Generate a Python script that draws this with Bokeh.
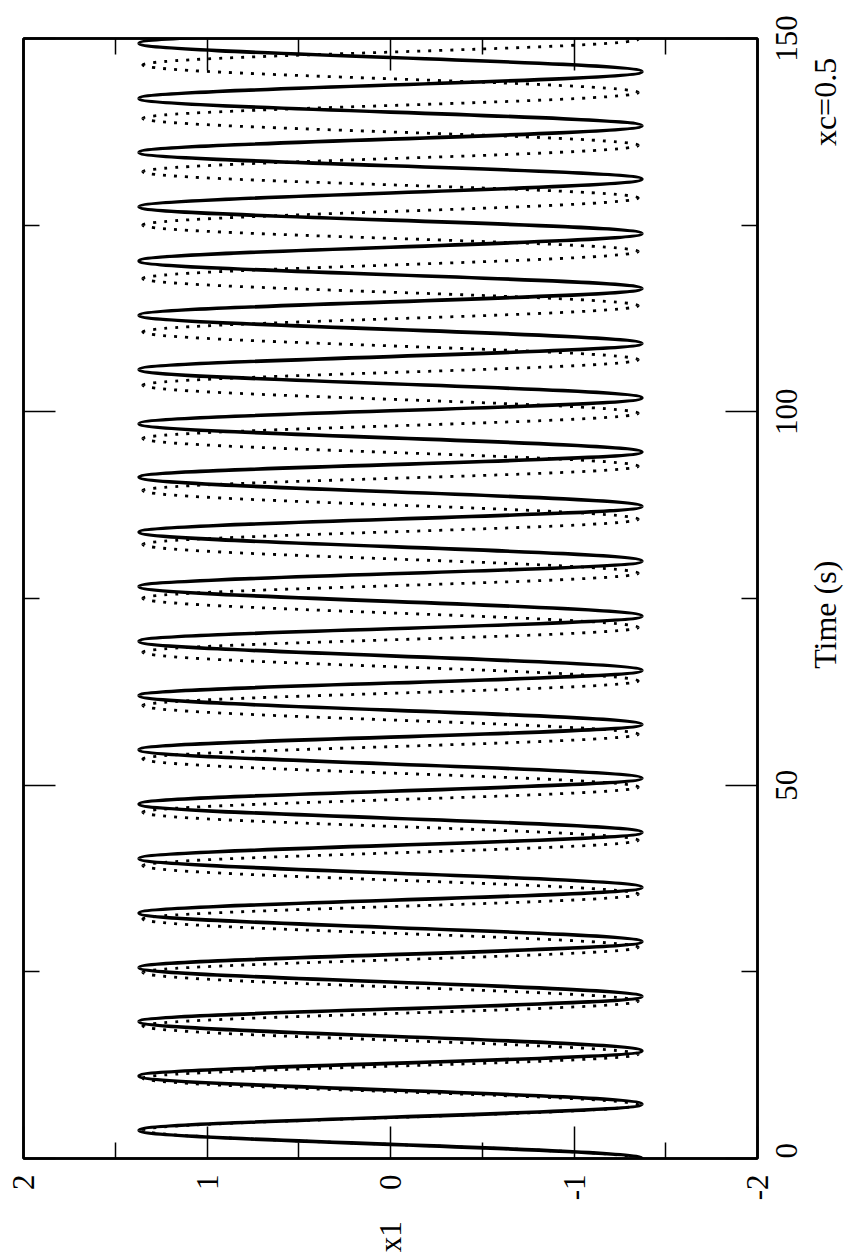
import math
from bokeh.plotting import figure
from bokeh.models import Range1d, LinearAxis, FixedTicker, ColumnDataSource
from bokeh.embed import file_html
from bokeh.resources import INLINE

# ---- data: turning points of each trace ----
# solid trace: times (s) of successive troughs / crests and their x1 values
solid_t = [0.00, 3.78, 7.27, 11.06, 14.41, 18.34, 21.69, 25.58, 29.02, 32.87,
           36.30, 40.19, 43.67, 47.48, 50.91, 54.76, 58.11, 62.00, 65.35, 69.28,
           72.63, 76.61, 80.00, 83.89, 87.33, 91.26, 94.61, 98.42, 101.85, 105.66,
           109.14, 112.94, 116.51, 120.21, 123.89, 127.45, 131.17, 134.74, 138.31,
           141.98, 145.55, 149.36, 152.90]
solid_x1 = [-1.37, 1.37, -1.37, 1.37, -1.37, 1.37, -1.37, 1.37, -1.37, 1.37,
            -1.37, 1.37, -1.37, 1.37, -1.37, 1.37, -1.37, 1.37, -1.37, 1.37,
            -1.37, 1.37, -1.37, 1.37, -1.37, 1.37, -1.37, 1.37, -1.37, 1.37,
            -1.37, 1.37, -1.37, 1.37, -1.37, 1.37, -1.37, 1.37, -1.37,
            1.37, -1.37, 1.37, -1.37]

# dotted trace: slightly faster oscillation, drifting ahead of the solid one
dot_t = [0.00, 3.78, 7.17, 10.76, 13.96, 17.76, 21.07, 24.91, 28.28, 32.07,
         35.40, 39.21, 42.62, 46.36, 49.73, 53.51, 56.81, 60.66, 63.95, 67.81,
         71.11, 75.03, 78.38, 82.23, 85.61, 89.46, 92.71, 96.42, 99.80, 103.56,
         106.97, 110.70, 114.21, 117.84, 121.48, 125.00, 128.65, 132.15, 135.68,
         139.30, 142.75, 146.46, 149.90, 153.50]
dot_x1 = [-1.35, 1.35, -1.35, 1.35, -1.35, 1.35, -1.35, 1.35, -1.35, 1.35,
          -1.35, 1.35, -1.35, 1.35, -1.35, 1.35, -1.35, 1.35, -1.35, 1.35,
          -1.35, 1.35, -1.35, 1.35, -1.35, 1.35, -1.35, 1.35, -1.35, 1.35,
          -1.35, 1.35, -1.35, 1.35, -1.35, 1.35, -1.35, 1.35, -1.35,
          1.35, -1.35, 1.35, -1.35, 1.35]

x1_ticks = [-2, -1, 0, 1, 2]
x1_labels = {-2: "-2", -1: "-1", 0: "0", 1: "1", 2: "2"}
x1_minor = [-1.5, -0.5, 0.5, 1.5]
t_ticks = [0, 50, 100, 150]
t_minor = [25, 75, 125]
t_labels = ["0", "50", "100", "150"]

FONT = "Liberation Serif"
VERT = math.pi / 2
TICK_FS = 31          # px, tick-label font size
TITLE_FS = 32         # px, axis-title font size


def bezier_source(ts, vs):
    # half-wave bezier segments between successive turning points
    k = 0.3634
    d = dict(x0=[], y0=[], x1=[], y1=[], cx0=[], cy0=[], cx1=[], cy1=[])
    for i in range(len(ts) - 1):
        dt = ts[i + 1] - ts[i]
        d["x0"].append(vs[i]); d["y0"].append(ts[i])
        d["x1"].append(vs[i + 1]); d["y1"].append(ts[i + 1])
        d["cx0"].append(vs[i]); d["cy0"].append(ts[i] + k * dt)
        d["cx1"].append(vs[i + 1]); d["cy1"].append(ts[i + 1] - k * dt)
    return ColumnDataSource(d)


p = figure(width=864, height=1258, x_range=Range1d(2, -2), y_range=Range1d(0, 150),
           output_backend="svg", toolbar_location=None, y_axis_location="right",
           min_border_left=23, min_border_right=106, min_border_top=38,
           min_border_bottom=100)
p.xgrid.visible = False
p.ygrid.visible = False
p.outline_line_color = "black"
p.outline_line_width = 2.5
p.background_fill_color = "white"
p.border_fill_color = "white"

# time px per second, used only to centre the rotated (bottom-to-top) texts
PX_PER_S = 1120.0 / 150.0


def centred_start(t_centre, text, fs, em_widths):
    # Bokeh starts a rotated right-side label at its tick; shift it down by half its length
    length = sum(em_widths.get(ch, 0.5) for ch in text) * fs
    return t_centre - 0.5 * length / PX_PER_S


EM = {"0": .5, "1": .5, "5": .5, "T": .611, "i": .278, "m": .778, "e": .444, " ": .25,
      "(": .333, ")": .333, "s": .389, "x": .5, "c": .444, "=": .564, ".": .25}


def style_axis(ax, ticks, minor, show_labels):
    ax.ticker = FixedTicker(ticks=ticks, minor_ticks=minor)
    ax.major_tick_in = 32
    ax.major_tick_out = 0
    ax.minor_tick_in = 16
    ax.minor_tick_out = 0
    ax.major_tick_line_color = "black"
    ax.minor_tick_line_color = "black"
    ax.major_tick_line_width = 1.5
    ax.minor_tick_line_width = 1.5
    ax.axis_line_color = "black"
    ax.axis_line_width = 2.5
    if show_labels:
        ax.major_label_text_font = FONT
        ax.major_label_text_font_size = f"{TICK_FS}px"
        ax.major_label_text_color = "black"
        ax.major_label_orientation = VERT
        ax.axis_label_text_font = FONT
        ax.axis_label_text_font_style = "normal"
        ax.axis_label_text_color = "black"
        ax.axis_label_text_font_size = f"{TICK_FS}px"
        if hasattr(ax, "axis_label_orientation"):
            ax.axis_label_orientation = VERT
    else:
        ax.major_label_overrides = {t: "" for t in ticks}
        ax.major_label_text_font_size = "1px"
        ax.major_label_standoff = 0


def text_axis(positions, texts, fs, standoff):
    ax = LinearAxis()
    ax.ticker = FixedTicker(ticks=positions, minor_ticks=[])
    ax.major_label_overrides = dict(zip(positions, texts))
    ax.major_label_orientation = VERT
    ax.major_label_text_font = FONT
    ax.major_label_text_font_size = f"{fs}px"
    ax.major_label_text_color = "black"
    ax.major_label_standoff = standoff
    ax.major_tick_line_color = None
    ax.minor_tick_line_color = None
    ax.axis_line_color = None
    ax.major_tick_in = 0
    ax.major_tick_out = 0
    return ax


xa = p.xaxis[0]
style_axis(xa, x1_ticks, x1_minor, True)
xa.major_label_overrides = x1_labels
xa.major_label_standoff = 16
xa.axis_label = "x1"
xa.axis_label_standoff = 18

# right side: tick marks only, then the tick numbers, then the titles
ya = p.yaxis[0]
style_axis(ya, t_ticks, t_minor, False)

num_pos = [max(0.0, centred_start(t, s, TICK_FS, EM)) for t, s in zip(t_ticks, t_labels)]
p.add_layout(text_axis(num_pos, t_labels, TICK_FS, 29), "right")

title_texts = ["Time (s)", "xc=0.5"]
title_centres = [72.9, 141.5]
title_pos = [centred_start(t, s, TITLE_FS, EM) for t, s in zip(title_centres, title_texts)]
p.add_layout(text_axis(title_pos, title_texts, TITLE_FS, 15), "right")

top = LinearAxis()
style_axis(top, x1_ticks, x1_minor, False)
p.add_layout(top, "above")
left = LinearAxis()
style_axis(left, t_ticks, t_minor, False)
p.add_layout(left, "left")

p.bezier(x0="x0", y0="y0", x1="x1", y1="y1", cx0="cx0", cy0="cy0", cx1="cx1", cy1="cy1",
         source=bezier_source(dot_t, dot_x1), line_color="black", line_width=2.8,
         line_dash="3 8")
p.bezier(x0="x0", y0="y0", x1="x1", y1="y1", cx0="cx0", cy0="cy0", cx1="cx1", cy1="cy1",
         source=bezier_source(solid_t, solid_x1), line_color="black", line_width=3.6)

open("out.html", "w").write(file_html(p, INLINE))
